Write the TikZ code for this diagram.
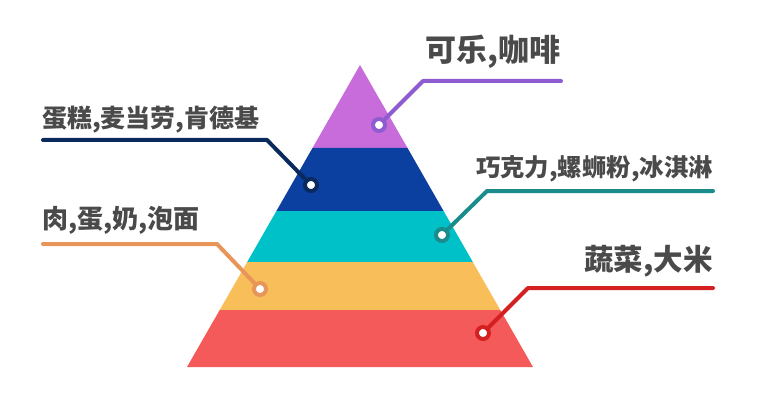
\documentclass[tikz,border=0pt]{standalone}
\usepackage{fontspec}
\setmainfont{Noto Sans CJK SC}
\usepackage{xcolor}
\usetikzlibrary{positioning}

\definecolor{toppurple}{HTML}{C86CDC}
\definecolor{fastblue}{HTML}{0B40A0}
\definecolor{snackcyan}{HTML}{00C0C8}
\definecolor{meatorange}{HTML}{F8BE5A}
\definecolor{vegred}{HTML}{F55A5A}
\definecolor{linepurple}{HTML}{8E5BD0}
\definecolor{linenavy}{HTML}{0A2A5E}
\definecolor{lineteal}{HTML}{1A8C8C}
\definecolor{lineorange}{HTML}{E8955A}
\definecolor{linered}{HTML}{D42020}
\definecolor{labelgray}{HTML}{4A4A4A}

\begin{document}
\begin{tikzpicture}[
      x=1pt, y=-1pt,
      tag/.style={font=\bfseries, text=labelgray, inner sep=0pt},
      link/.style={line width=4pt, line cap=round, line join=round},
      dot/.style={circle, draw=#1, line width=4pt, fill=white,
        minimum size=12pt, inner sep=0pt},
    ]
    \useasboundingbox (0,0) rectangle (771,409);

    % pyramid bands
    \fill[toppurple]  (360,65) -- (407.5,148) -- (312.5,148) -- cycle;
    \fill[fastblue]   (312.5,148) -- (407.5,148) -- (443.6,211) -- (276.4,211) -- cycle;
    \fill[snackcyan]  (276.4,211) -- (443.6,211) -- (472.8,262) -- (247.2,262) -- cycle;
    \fill[meatorange] (247.2,262) -- (472.8,262) -- (500.3,310) -- (219.7,310) -- cycle;
    \fill[vegred]     (219.7,310) -- (500.3,310) -- (533,367) -- (187,367) -- cycle;

    % bends and ends of the leader lines
    \coordinate (colaBend)  at (423,81);
    \coordinate (colaEnd)   at (561,81);
    \coordinate (fastBend)  at (267,140);
    \coordinate (fastEnd)   at (43,140);
    \coordinate (snackBend) at (487,191);
    \coordinate (snackEnd)  at (713,191);
    \coordinate (meatBend)  at (217,244);
    \coordinate (meatEnd)   at (43,244);
    \coordinate (vegBend)   at (528,288);
    \coordinate (vegEnd)    at (713,288);

    \node[dot=linepurple] (colaDot)  at (379,125) {};
    \node[dot=linenavy]   (fastDot)  at (311,185) {};
    \node[dot=lineteal]   (snackDot) at (442,235) {};
    \node[dot=lineorange] (meatDot)  at (260,289) {};
    \node[dot=linered]    (vegDot)   at (483,333) {};

    \draw[link, linepurple] (colaDot) -- (colaBend) -- (colaEnd);
    \draw[link, linenavy]   (fastDot) -- (fastBend) -- (fastEnd);
    \draw[link, lineteal]   (snackDot) -- (snackBend) -- (snackEnd);
    \draw[link, lineorange] (meatDot) -- (meatBend) -- (meatEnd);
    \draw[link, linered]    (vegDot) -- (vegBend) -- (vegEnd);

    % labels
    \node[tag, font=\bfseries\fontsize{31}{31}\selectfont,
      above right=12pt and 2pt of colaBend]  (colaTag)  {可乐,咖啡};
    \node[tag, font=\bfseries\fontsize{25}{25}\selectfont,
      above right=7pt and -1pt of fastEnd]   (fastTag)  {蛋糕,麦当劳,肯德基};
    \node[tag, font=\bfseries\fontsize{24.4}{25}\selectfont,
      above left=9pt and 0pt of snackEnd]    (snackTag) {巧克力,螺蛳粉,冰淇淋};
    \node[tag, font=\bfseries\fontsize{29.5}{30}\selectfont,
      above left=11pt and 0pt of vegEnd]     (vegTag)   {蔬菜,大米};
    \node[tag, font=\bfseries\fontsize{26}{26}\selectfont,
      above right=9pt and -1pt of meatEnd]   (meatTag)  {肉,蛋,奶,泡面};

  \end{tikzpicture}
\end{document}
